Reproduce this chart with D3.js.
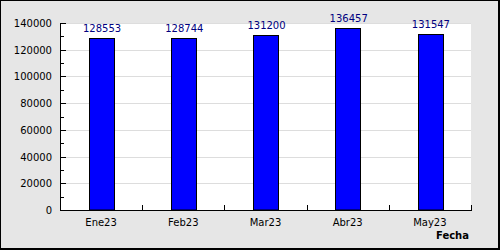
<!DOCTYPE html>
<html>
<head>
<meta charset="utf-8">
<script src="https://cdn.jsdelivr.net/npm/d3@7"></script>
<style>
  body { margin: 0; }
  svg text { font-family: "DejaVu Sans", sans-serif; }
</style>
</head>
<body>
<svg id="chart" width="500" height="250"></svg>
<script>
var meses = ['Ene23', 'Feb23', 'Mar23', 'Abr23', 'May23']
var valores = [128553, 128744, 131200, 136457, 131547]
var yTicks = [0, 20000, 40000, 60000, 80000, 100000, 120000, 140000]
var yMinor = [10000, 30000, 50000, 70000, 90000, 110000, 130000]

var w = 500, h = 250
var plotLeft = 60, plotRight = 471, plotTop = 23, plotBottom = 210

var svg = d3.select('#chart')

// frame with drop shadow on right/bottom
svg.append('rect').attr('x', 0).attr('y', 0).attr('width', w).attr('height', h).attr('fill', '#000')
svg.append('rect').attr('x', 1).attr('y', 1).attr('width', w - 3).attr('height', h - 3).attr('fill', '#e6e6e6')

// plot area
svg.append('rect')
    .attr('x', plotLeft).attr('y', plotTop)
    .attr('width', plotRight - plotLeft).attr('height', plotBottom - plotTop)
    .attr('fill', '#fff')

var x = d3.scaleBand().domain(meses).range([plotLeft, plotRight]).paddingInner(0).paddingOuter(0)
var y = d3.scaleLinear().domain([0, 140000]).range([plotBottom, plotTop])

// grid
svg.selectAll('.grid')
    .data(yTicks.slice(1))
    .enter()
    .append('line')
    .attr('class', 'grid')
    .attr('x1', plotLeft).attr('x2', plotRight)
    .attr('y1', function(d) { return Math.round(y(d)) + 0.5 })
    .attr('y2', function(d) { return Math.round(y(d)) + 0.5 })
    .attr('stroke', '#dddddd')

// bars
var bw = x.bandwidth() * 0.3
svg.selectAll('.bar')
    .data(valores)
    .enter()
    .append('rect')
    .attr('class', 'bar')
    .attr('x', function(d, i) { return Math.round(x(meses[i]) + x.bandwidth() / 2 - bw / 2) + 0.5 })
    .attr('y', function(d) { return Math.round(y(d)) + 0.5 })
    .attr('width', Math.round(bw))
    .attr('height', function(d) { return Math.round(plotBottom - y(d)) - 0.5 })
    .attr('fill', '#0000ff')
    .attr('stroke', '#000')
    .attr('stroke-width', 1)

// value labels
svg.selectAll('.val')
    .data(valores)
    .enter()
    .append('text')
    .attr('class', 'val')
    .attr('x', function(d, i) { return x(meses[i]) + x.bandwidth() / 2 + 1 })
    .attr('y', function(d) { return Math.round(y(d)) - 6 })
    .attr('text-anchor', 'middle')
    .attr('font-size', '10px')
    .attr('fill', '#000080')
    .text(function(d) { return d })

// y axis
svg.append('line')
    .attr('x1', plotLeft + 0.5).attr('x2', plotLeft + 0.5)
    .attr('y1', plotTop).attr('y2', plotBottom + 1)
    .attr('stroke', '#000')
svg.selectAll('.ymaj')
    .data(yTicks)
    .enter()
    .append('line')
    .attr('x1', plotLeft).attr('x2', plotLeft + 6)
    .attr('y1', function(d) { return Math.round(y(d)) + 0.5 })
    .attr('y2', function(d) { return Math.round(y(d)) + 0.5 })
    .attr('stroke', '#000')
svg.selectAll('.ymin')
    .data(yMinor)
    .enter()
    .append('line')
    .attr('x1', plotLeft).attr('x2', plotLeft + 4)
    .attr('y1', function(d) { return Math.round(y(d)) + 0.5 })
    .attr('y2', function(d) { return Math.round(y(d)) + 0.5 })
    .attr('stroke', '#000')
svg.selectAll('.ylab')
    .data(yTicks)
    .enter()
    .append('text')
    .attr('x', 52)
    .attr('y', function(d) { return y(d) + 4 })
    .attr('text-anchor', 'end')
    .attr('font-size', '10px')
    .attr('fill', '#000')
    .text(function(d) { return d })

// x axis
svg.append('line')
    .attr('x1', plotLeft).attr('x2', plotRight + 1)
    .attr('y1', plotBottom + 0.5).attr('y2', plotBottom + 0.5)
    .attr('stroke', '#000')
svg.selectAll('.xtick')
    .data(meses)
    .enter()
    .append('line')
    .attr('x1', function(d) { return Math.round(x(d) + x.bandwidth()) + 0.5 })
    .attr('x2', function(d) { return Math.round(x(d) + x.bandwidth()) + 0.5 })
    .attr('y1', plotBottom).attr('y2', plotBottom - 5)
    .attr('stroke', '#000')
svg.selectAll('.xlab')
    .data(meses)
    .enter()
    .append('text')
    .attr('x', function(d) { return x(d) + x.bandwidth() / 2 })
    .attr('y', 226)
    .attr('text-anchor', 'middle')
    .attr('font-size', '10px')
    .attr('fill', '#000')
    .text(function(d) { return d })

svg.append('text')
    .attr('x', 469).attr('y', 239)
    .attr('text-anchor', 'end')
    .attr('font-size', '10px')
    .attr('font-weight', 'bold')
    .attr('fill', '#000')
    .text('Fecha')
</script>
</body>
</html>
